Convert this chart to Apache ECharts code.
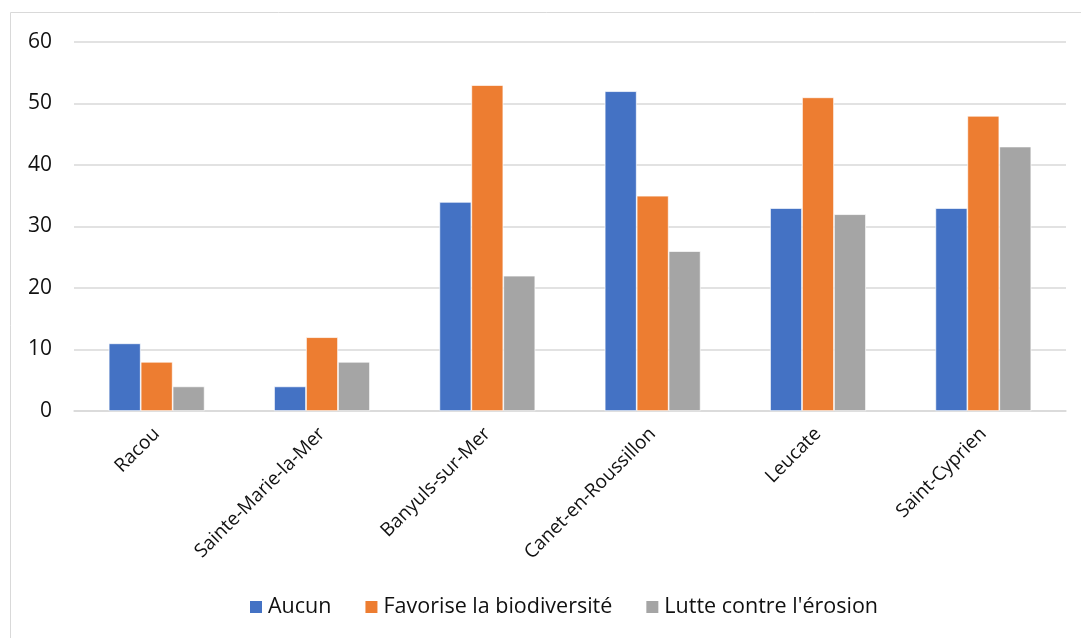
<!DOCTYPE html>
<html><head><meta charset="utf-8">
<script src="https://cdn.jsdelivr.net/npm/echarts@6/dist/echarts.min.js"></script>
<style>html,body{margin:0;padding:0;background:#fff}#c{width:1081px;height:638px}</style>
</head><body><div id="c"></div>
<script>
const categories = ['Racou','Sainte-Marie-la-Mer','Banyuls-sur-Mer','Canet-en-Roussillon','Leucate','Saint-Cyprien'];
const aucun = [11,4,34,52,33,33];
const biodiversite = [8,12,53,35,51,48];
const erosion = [4,8,22,26,32,43];
const seriesNames = ['Aucun','Favorise la biodiversité',"Lutte contre l'érosion"];
const colors = ['#4472C4','#ED7D31','#A5A5A5'];
const font = 'Open Sans';
const chart = echarts.init(document.getElementById('c'));
const mk = (name, data, i) => ({
  name, type:'bar', data, barGap:'0%', barCategoryGap:'42%',
  itemStyle:{color:colors[i], borderColor:'#fff', borderWidth:0.7}
});
chart.setOption({
  animation:false,
  textStyle:{fontFamily:font},
  graphic:[{type:'rect', shape:{x:10.5,y:12.5,width:1100,height:700}, style:{fill:'none', stroke:'#d9d9d9', lineWidth:1}, silent:true}],
  grid:{left:74, right:15, top:42, bottom:227, containLabel:false},
  legend:{bottom:15, left:243, itemWidth:14, itemHeight:14, itemGap:32, icon:'rect',
    textStyle:{fontSize:21.5, color:'#111', fontFamily:font}, data:seriesNames},
  xAxis:{type:'category', data:categories,
    axisLine:{lineStyle:{color:'#d9d9d9', width:1.5}}, axisTick:{show:false},
    axisLabel:{rotate:45, fontSize:19, color:'#111', margin:20, interval:0, fontFamily:font}},
  yAxis:{type:'value', min:0, max:60, interval:10,
    axisLine:{show:false}, axisTick:{show:false},
    splitLine:{lineStyle:{color:'#d9d9d9', width:1.5}},
    axisLabel:{fontSize:21, color:'#111', margin:22, fontFamily:font}},
  series:[mk(seriesNames[0],aucun,0), mk(seriesNames[1],biodiversite,1), mk(seriesNames[2],erosion,2)]
});
</script></body></html>
